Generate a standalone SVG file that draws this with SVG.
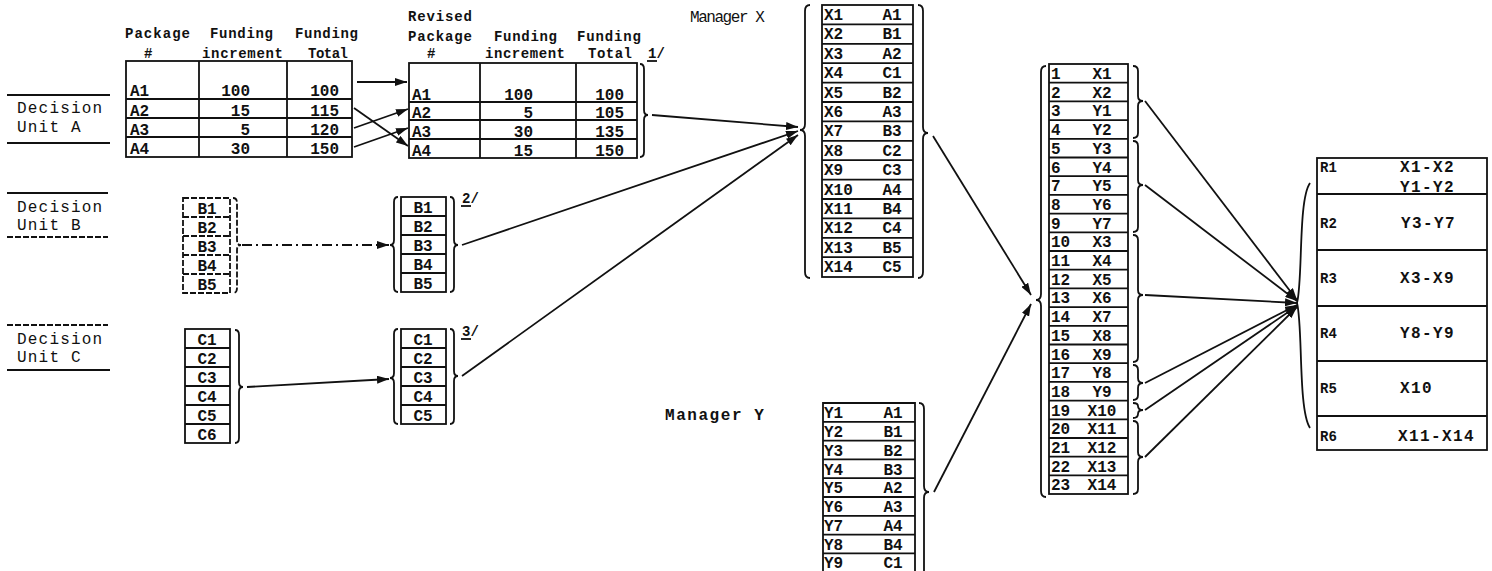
<svg xmlns="http://www.w3.org/2000/svg" width="1492" height="571" viewBox="0 0 1492 571">
  <defs>
    <style>
      .ln { stroke: #111; stroke-width: 1.8; fill: none; }
      .dash { stroke-dasharray: 6 2; }
      .dd { stroke-dasharray: 10 4 2 4; }
      .t { font-family: "Liberation Mono", "DejaVu Sans Mono", monospace; font-weight: bold; fill: #111; font-size: 16px; }
      .h { font-size: 14px; }
      .lab { font-family: "Liberation Mono", "DejaVu Sans Mono", monospace; font-size: 16px; fill: #111; letter-spacing: 1.2px; }
      .r { letter-spacing: 1.4px; }
      .c { text-anchor: middle; }
      .e { text-anchor: end; }
      .conn { stroke: #111; stroke-width: 1.8; fill: none; marker-end: url(#arrow); }
    </style>
    <marker id="arrow" markerUnits="userSpaceOnUse" markerWidth="12" markerHeight="8" refX="12" refY="4" orient="auto">
      <path d="M0,0 L12,4 L0,8 z" fill="#111"/>
    </marker>
  </defs>
  <rect width="1492" height="571" fill="#fff"/>

  <!-- Decision unit labels -->
  <g id="unit-a-label">
    <line class="ln" x1="7" y1="95" x2="110" y2="95"/>
    <text class="lab" x="17" y="113">Decision</text>
    <text class="lab" x="17" y="132">Unit A</text>
    <line class="ln" x1="7" y1="143" x2="110" y2="143"/>
  </g>
  <g id="unit-b-label">
    <line class="ln" x1="7" y1="193" x2="108" y2="193"/>
    <text class="lab" x="17" y="212">Decision</text>
    <text class="lab" x="17" y="230">Unit B</text>
    <line class="ln dash" x1="7" y1="237" x2="108" y2="237"/>
  </g>
  <g id="unit-c-label">
    <line class="ln dash" x1="7" y1="325" x2="108" y2="325"/>
    <text class="lab" x="17" y="344">Decision</text>
    <text class="lab" x="17" y="362">Unit C</text>
    <line class="ln" x1="7" y1="370" x2="110" y2="370"/>
  </g>

  <!-- Unit A package table -->
  <g id="table-a">
    <text class="t h" x="125" y="38" textLength="65" lengthAdjust="spacing">Package</text>
    <text class="t h" x="144" y="58">#</text>
    <text class="t h" x="210" y="38" textLength="63" lengthAdjust="spacing">Funding</text>
    <text class="t h" x="202" y="58" textLength="81" lengthAdjust="spacing">increment</text>
    <text class="t h" x="295" y="38" textLength="63" lengthAdjust="spacing">Funding</text>
    <text class="t h" x="308" y="58" textLength="40" lengthAdjust="spacing">Total</text>
    <rect class="ln" x="126" y="61" width="226" height="96"/>
    <path class="ln" d="M199,61 V157 M287,61 V157 M126,99 H352 M126,118 H352 M126,137 H352"/>
    <text class="t" x="130" y="96">A1</text><text class="t e" x="250" y="96">100</text><text class="t e" x="339" y="96">100</text>
    <text class="t" x="130" y="116">A2</text><text class="t e" x="250" y="116">15</text><text class="t e" x="339" y="116">115</text>
    <text class="t" x="130" y="135">A3</text><text class="t e" x="250" y="135">5</text><text class="t e" x="339" y="135">120</text>
    <text class="t" x="130" y="154">A4</text><text class="t e" x="250" y="154">30</text><text class="t e" x="339" y="154">150</text>
  </g>

  <!-- Unit A revised package table -->
  <g id="table-a-revised">
    <text class="t h" x="408" y="21" textLength="64" lengthAdjust="spacing">Revised</text>
    <text class="t h" x="408" y="41" textLength="64" lengthAdjust="spacing">Package</text>
    <text class="t h" x="427" y="58">#</text>
    <text class="t h" x="494" y="41" textLength="63" lengthAdjust="spacing">Funding</text>
    <text class="t h" x="485" y="58" textLength="80" lengthAdjust="spacing">increment</text>
    <text class="t h" x="577" y="41" textLength="64" lengthAdjust="spacing">Funding</text>
    <text class="t h" x="588" y="58" textLength="44" lengthAdjust="spacing">Total</text>
    <text class="t h" x="648" y="58">1/</text>
    <line class="ln" x1="647" y1="61" x2="657" y2="61"/>
    <rect class="ln" x="409" y="63" width="228" height="95"/>
    <path class="ln" d="M480,63 V158 M576,63 V158 M409,102 H637 M409,120 H637 M409,139 H637"/>
    <path class="ln" d="M640,64 Q644,64 644,69 L644,110 Q644,115 648,115 Q644,115 644,120 L644,152 Q644,157 640,157"/>
    <text class="t" x="412" y="100">A1</text><text class="t e" x="533" y="100">100</text><text class="t e" x="624" y="100">100</text>
    <text class="t" x="412" y="118">A2</text><text class="t e" x="533" y="118">5</text><text class="t e" x="624" y="118">105</text>
    <text class="t" x="412" y="137">A3</text><text class="t e" x="533" y="137">30</text><text class="t e" x="624" y="137">135</text>
    <text class="t" x="412" y="156">A4</text><text class="t e" x="533" y="156">15</text><text class="t e" x="624" y="156">150</text>
  </g>

  <!-- Unit B lists -->
  <g id="list-b">
    <rect class="ln dash" x="183" y="198" width="47" height="95"/>
    <path class="ln dash" d="M183,217 H230 M183,236 H230 M183,255 H230 M183,274 H230"/>
    <path class="ln dash" d="M233,198 Q237,198 237,203 L237,240 Q237,245 241,245 Q237,245 237,250 L237,288 Q237,293 233,293"/>
    <text class="t c" x="207" y="214">B1</text>
    <text class="t c" x="207" y="233">B2</text>
    <text class="t c" x="207" y="252">B3</text>
    <text class="t c" x="207" y="271">B4</text>
    <text class="t c" x="207" y="290">B5</text>
  </g>
  <g id="list-b-revised">
    <rect class="ln" x="401" y="197" width="45" height="95"/>
    <path class="ln" d="M401,216 H446 M401,235 H446 M401,254 H446 M401,273 H446"/>
    <path class="ln" d="M398,197 Q394,197 394,202 L394,240 Q394,245 390,245 Q394,245 394,250 L394,287 Q394,292 398,292"/>
    <path class="ln" d="M450,197 Q454,197 454,202 L454,240 Q454,245 458,245 Q454,245 454,250 L454,287 Q454,292 450,292"/>
    <text class="t c" x="423" y="213">B1</text>
    <text class="t c" x="423" y="232">B2</text>
    <text class="t c" x="423" y="251">B3</text>
    <text class="t c" x="423" y="270">B4</text>
    <text class="t c" x="423" y="289">B5</text>
    <text class="t h" x="462" y="203">2/</text>
    <line class="ln" x1="461" y1="206" x2="471" y2="206"/>
  </g>

  <!-- Unit C lists -->
  <g id="list-c">
    <rect class="ln" x="185" y="329" width="45" height="114"/>
    <path class="ln" d="M185,348 H230 M185,367 H230 M185,386 H230 M185,405 H230 M185,424 H230"/>
    <path class="ln" d="M235,330 Q239,330 239,335 L239,382 Q239,387 243,387 Q239,387 239,392 L239,438 Q239,443 235,443"/>
    <text class="t c" x="207" y="345">C1</text>
    <text class="t c" x="207" y="364">C2</text>
    <text class="t c" x="207" y="383">C3</text>
    <text class="t c" x="207" y="402">C4</text>
    <text class="t c" x="207" y="421">C5</text>
    <text class="t c" x="207" y="440">C6</text>
  </g>
  <g id="list-c-revised">
    <rect class="ln" x="401" y="329" width="45" height="95"/>
    <path class="ln" d="M401,348 H446 M401,367 H446 M401,386 H446 M401,405 H446"/>
    <path class="ln" d="M398,329 Q394,329 394,334 L394,373 Q394,378 390,378 Q394,378 394,383 L394,419 Q394,424 398,424"/>
    <path class="ln" d="M450,329 Q454,329 454,334 L454,371 Q454,376 458,376 Q454,376 454,381 L454,419 Q454,424 450,424"/>
    <text class="t c" x="423" y="345">C1</text>
    <text class="t c" x="423" y="364">C2</text>
    <text class="t c" x="423" y="383">C3</text>
    <text class="t c" x="423" y="402">C4</text>
    <text class="t c" x="423" y="421">C5</text>
    <text class="t h" x="462" y="336">3/</text>
    <line class="ln" x1="461" y1="339" x2="471" y2="339"/>
  </g>

  <!-- Manager X ranking -->
  <g id="manager-x">
    <text class="lab" x="690" y="22" textLength="76" lengthAdjust="spacing">Manager X</text>
    <rect class="ln" x="822" y="5" width="91" height="272"/>
    <path class="ln" d="M822,24.4 H913 M822,43.8 H913 M822,63.2 H913 M822,82.6 H913 M822,102 H913 M822,121.4 H913 M822,140.8 H913 M822,160.2 H913 M822,179.6 H913 M822,199 H913 M822,218.4 H913 M822,237.8 H913 M822,257.2 H913"/>
    <path class="ln" d="M810,5 Q805,5 805,11 L805,124 Q805,130 800,130 Q805,130 805,136 L805,272 Q805,278 810,278"/>
    <path class="ln" d="M918,5 Q923,5 923,11 L923,127 Q923,133 928,133 Q923,133 923,139 L923,272 Q923,278 918,278"/>
    <g class="t">
      <text x="824" y="20">X1</text><text class="c" x="892" y="20">A1</text>
      <text x="824" y="39.4">X2</text><text class="c" x="892" y="39.4">B1</text>
      <text x="824" y="58.8">X3</text><text class="c" x="892" y="58.8">A2</text>
      <text x="824" y="78.2">X4</text><text class="c" x="892" y="78.2">C1</text>
      <text x="824" y="97.6">X5</text><text class="c" x="892" y="97.6">B2</text>
      <text x="824" y="117">X6</text><text class="c" x="892" y="117">A3</text>
      <text x="824" y="136.4">X7</text><text class="c" x="892" y="136.4">B3</text>
      <text x="824" y="155.8">X8</text><text class="c" x="892" y="155.8">C2</text>
      <text x="824" y="175.2">X9</text><text class="c" x="892" y="175.2">C3</text>
      <text x="824" y="194.6">X10</text><text class="c" x="892" y="194.6">A4</text>
      <text x="824" y="214">X11</text><text class="c" x="892" y="214">B4</text>
      <text x="824" y="233.4">X12</text><text class="c" x="892" y="233.4">C4</text>
      <text x="824" y="252.8">X13</text><text class="c" x="892" y="252.8">B5</text>
      <text x="824" y="272.2">X14</text><text class="c" x="892" y="272.2">C5</text>
    </g>
  </g>

  <!-- Manager Y ranking -->
  <g id="manager-y">
    <text class="lab" x="665" y="420" textLength="100" lengthAdjust="spacing" font-weight="bold">Manager Y</text>
    <path class="ln" d="M823,574 V403 H915 V574"/>
    <path class="ln" d="M823,421.8 H915 M823,440.6 H915 M823,459.4 H915 M823,478.2 H915 M823,497 H915 M823,515.8 H915 M823,534.6 H915 M823,553.4 H915"/>
    <path class="ln" d="M919,403 Q924,403 924,409 L924,486 Q924,492 929,492 Q924,492 924,498 L924,571"/>
    <g class="t">
      <text x="824" y="418">Y1</text><text class="c" x="893" y="418">A1</text>
      <text x="824" y="437">Y2</text><text class="c" x="893" y="437">B1</text>
      <text x="824" y="455.5">Y3</text><text class="c" x="893" y="455.5">B2</text>
      <text x="824" y="474.5">Y4</text><text class="c" x="893" y="474.5">B3</text>
      <text x="824" y="493">Y5</text><text class="c" x="893" y="493">A2</text>
      <text x="824" y="512">Y6</text><text class="c" x="893" y="512">A3</text>
      <text x="824" y="531">Y7</text><text class="c" x="893" y="531">A4</text>
      <text x="824" y="549.5">Y8</text><text class="c" x="893" y="549.5">B4</text>
      <text x="824" y="567.5">Y9</text><text class="c" x="893" y="567.5">C1</text>
    </g>
  </g>

  <!-- Combined ranking -->
  <g id="combined-ranking">
    <rect class="ln" x="1049" y="64" width="79" height="430"/>
    <path class="ln" d="M1049,82.7 H1128 M1049,101.4 H1128 M1049,120.1 H1128 M1049,138.8 H1128 M1049,157.5 H1128 M1049,176.2 H1128 M1049,194.9 H1128 M1049,213.6 H1128 M1049,232.3 H1128 M1049,251 H1128 M1049,269.7 H1128 M1049,288.4 H1128 M1049,307.1 H1128 M1049,325.8 H1128 M1049,344.5 H1128 M1049,363.2 H1128 M1049,381.9 H1128 M1049,400.6 H1128 M1049,419.3 H1128 M1049,438 H1128 M1049,456.7 H1128 M1049,475.4 H1128"/>
    <path class="ln" d="M1046,66 Q1041,66 1041,72 L1041,294 Q1041,300 1036,300 Q1041,300 1041,306 L1041,491 Q1041,497 1046,497"/>
    <path class="ln" d="M1133,66 Q1138,66 1138,71 L1138,96 Q1138,101 1143,101 Q1138,101 1138,106 L1138,133 Q1138,138 1133,138"/>
    <path class="ln" d="M1133,141 Q1138,141 1138,146 L1138,180 Q1138,185 1143,185 Q1138,185 1138,190 L1138,227 Q1138,232 1133,232"/>
    <path class="ln" d="M1133,235 Q1138,235 1138,240 L1138,290 Q1138,295 1143,295 Q1138,295 1138,300 L1138,357 Q1138,362 1133,362"/>
    <path class="ln" d="M1133,365 Q1138,365 1138,370 L1138,378 Q1138,383 1143,383 Q1138,383 1138,388 L1138,395 Q1138,400 1133,400"/>
    <path class="ln" d="M1133,403 Q1138,403 1138,406 Q1138,410 1143,410 Q1138,410 1138,414 Q1138,418 1133,418"/>
    <path class="ln" d="M1133,421 Q1138,421 1138,426 L1138,452 Q1138,457 1143,457 Q1138,457 1138,462 L1138,489 Q1138,494 1133,494"/>
    <g class="t">
      <text x="1051" y="79">1</text><text class="c" x="1102" y="79">X1</text>
      <text x="1051" y="97.7">2</text><text class="c" x="1102" y="97.7">X2</text>
      <text x="1051" y="116.4">3</text><text class="c" x="1102" y="116.4">Y1</text>
      <text x="1051" y="135.1">4</text><text class="c" x="1102" y="135.1">Y2</text>
      <text x="1051" y="153.8">5</text><text class="c" x="1102" y="153.8">Y3</text>
      <text x="1051" y="172.5">6</text><text class="c" x="1102" y="172.5">Y4</text>
      <text x="1051" y="191.2">7</text><text class="c" x="1102" y="191.2">Y5</text>
      <text x="1051" y="209.9">8</text><text class="c" x="1102" y="209.9">Y6</text>
      <text x="1051" y="228.6">9</text><text class="c" x="1102" y="228.6">Y7</text>
      <text x="1051" y="247.3">10</text><text class="c" x="1102" y="247.3">X3</text>
      <text x="1051" y="266">11</text><text class="c" x="1102" y="266">X4</text>
      <text x="1051" y="284.7">12</text><text class="c" x="1102" y="284.7">X5</text>
      <text x="1051" y="303.4">13</text><text class="c" x="1102" y="303.4">X6</text>
      <text x="1051" y="322.1">14</text><text class="c" x="1102" y="322.1">X7</text>
      <text x="1051" y="340.8">15</text><text class="c" x="1102" y="340.8">X8</text>
      <text x="1051" y="359.5">16</text><text class="c" x="1102" y="359.5">X9</text>
      <text x="1051" y="378.2">17</text><text class="c" x="1102" y="378.2">Y8</text>
      <text x="1051" y="396.9">18</text><text class="c" x="1102" y="396.9">Y9</text>
      <text x="1051" y="415.6">19</text><text class="c" x="1102" y="415.6">X10</text>
      <text x="1051" y="434.3">20</text><text class="c" x="1102" y="434.3">X11</text>
      <text x="1051" y="453">21</text><text class="c" x="1102" y="453">X12</text>
      <text x="1051" y="471.7">22</text><text class="c" x="1102" y="471.7">X13</text>
      <text x="1051" y="490.4">23</text><text class="c" x="1102" y="490.4">X14</text>
    </g>
  </g>

  <!-- Ranking groups -->
  <g id="ranking-groups">
    <rect class="ln" x="1317" y="158" width="170" height="292"/>
    <path class="ln" d="M1317,194 H1487 M1317,250 H1487 M1317,306 H1487 M1317,361 H1487 M1317,416 H1487"/>
    <path class="ln" d="M1310,183 C1298,200 1303,280 1297,303 C1303,326 1298,410 1310,428"/>
    <g class="t">
      <text x="1320" y="172" font-size="14">R1</text><text class="r" x="1400" y="172">X1-X2</text>
      <text class="r" x="1400" y="192">Y1-Y2</text>
      <text x="1320" y="228" font-size="14">R2</text><text class="r" x="1401" y="228">Y3-Y7</text>
      <text x="1320" y="283" font-size="14">R3</text><text class="r" x="1400" y="283">X3-X9</text>
      <text x="1320" y="338" font-size="14">R4</text><text class="r" x="1400" y="338">Y8-Y9</text>
      <text x="1320" y="393" font-size="14">R5</text><text class="r" x="1400" y="393">X10</text>
      <text x="1320" y="441" font-size="14">R6</text><text class="r" x="1398" y="441">X11-X14</text>
    </g>
  </g>

  <!-- Connectors -->
  <g id="connectors">
    <path class="conn" d="M357,82 L407,82"/>
    <path class="conn" d="M354,108 L408,146"/>
    <path class="conn" d="M354,128 L408,109"/>
    <path class="conn" d="M354,147 L408,128"/>
    <path class="conn dd" d="M242,245 L389,245"/>
    <path class="conn" d="M247,387 L389,379"/>
    <path class="conn" d="M652,115 L798,127"/>
    <path class="conn" d="M462,245 L798,131"/>
    <path class="conn" d="M462,376 L798,135"/>
    <path class="conn" d="M933,136 L1031,295"/>
    <path class="conn" d="M934,492 L1031,304"/>
    <path class="conn" d="M1145,101 L1297,300"/>
    <path class="conn" d="M1145,185 L1297,301"/>
    <path class="conn" d="M1145,295 L1297,303"/>
    <path class="conn" d="M1145,383 L1297,305"/>
    <path class="conn" d="M1145,410 L1297,306"/>
    <path class="conn" d="M1145,457 L1297,307"/>
  </g>
</svg>
